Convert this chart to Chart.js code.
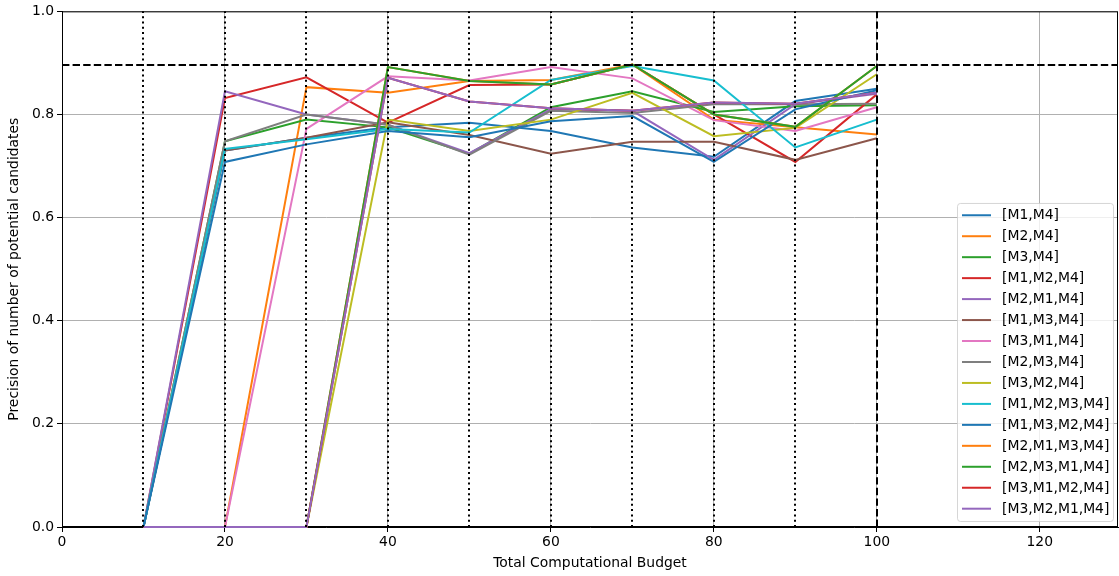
<!DOCTYPE html>
<html>
<head>
<meta charset="utf-8">
<script src="https://cdn.jsdelivr.net/npm/chart.js@4.4.1/dist/chart.umd.min.js"></script>
<style>
  html, body { margin: 0; padding: 0; background: #fff; }
  #wrap { width: 1119px; height: 576px; }
</style>
</head>
<body>
<div id="wrap"><canvas id="chart"></canvas></div>
<script>
const budgets = [10, 20, 30, 40, 50, 60, 70, 80, 90, 100];

const seriesLabels = ['[M1,M4]', '[M2,M4]', '[M3,M4]', '[M1,M2,M4]', '[M2,M1,M4]', '[M1,M3,M4]', '[M3,M1,M4]', '[M2,M3,M4]',
  '[M3,M2,M4]', '[M1,M2,M3,M4]', '[M1,M3,M2,M4]', '[M2,M1,M3,M4]', '[M2,M3,M1,M4]', '[M3,M1,M2,M4]', '[M3,M2,M1,M4]'];

const m1m4 = [0, 0.730, 0.755, 0.775, 0.784, 0.768, 0.736, 0.718, 0.826, 0.850];
const m2m4 = [0, 0, 0.853, 0.842, 0.865, 0.867, 0.897, 0.790, 0.775, 0.761];
const m3m4 = [0, 0.748, 0.790, 0.775, 0.724, 0.814, 0.845, 0.805, 0.816, 0.818];
const m1m2m4 = [0, 0.832, 0.872, 0.784, 0.857, 0.858, 0.897, 0.800, 0.708, 0.839];
const m2m1m4 = [0, 0.845, 0.800, 0.780, 0.725, 0.810, 0.807, 0.712, 0.820, 0.840];
const m1m3m4 = [0, 0.730, 0.755, 0.785, 0.760, 0.724, 0.747, 0.747, 0.712, 0.754];
const m3m1m4 = [0, 0, 0.772, 0.874, 0.866, 0.892, 0.870, 0.789, 0.768, 0.814];
const m2m3m4 = [0, 0.748, 0.800, 0.780, 0.722, 0.807, 0.803, 0.820, 0.820, 0.821];
const m3m2m4 = [0, 0, 0, 0.790, 0.768, 0.790, 0.842, 0.758, 0.774, 0.878];
const m1m2m3m4 = [0, 0.733, 0.752, 0.772, 0.765, 0.867, 0.894, 0.866, 0.736, 0.790];
const m1m3m2m4 = [0, 0.708, 0.742, 0.768, 0.756, 0.787, 0.797, 0.708, 0.810, 0.847];
const m2m1m3m4 = [0, 0, 0, 0.892, 0.865, 0.858, 0.897, 0.800, 0.776, 0.894];
const m2m3m1m4 = [0, 0, 0, 0.892, 0.865, 0.858, 0.897, 0.800, 0.776, 0.894];
const m3m1m2m4 = [0, 0, 0, 0.871, 0.825, 0.812, 0.807, 0.823, 0.821, 0.842];
const m3m2m1m4 = [0, 0, 0, 0.871, 0.825, 0.812, 0.807, 0.823, 0.821, 0.842];

const allSeries = [m1m4, m2m4, m3m4, m1m2m4, m2m1m4, m1m3m4, m3m1m4, m2m3m4, m3m2m4, m1m2m3m4, m1m3m2m4, m2m1m3m4, m2m3m1m4, m3m1m2m4, m3m2m1m4];

const dottedBudgets = [10, 20, 30, 40, 50, 60, 70, 80, 90];
const dashedBudgets = [100];
const targetPrecision = [0.895];

const colors = ['#1f77b4', '#ff7f0e', '#2ca02c', '#d62728', '#9467bd', '#8c564b', '#e377c2', '#7f7f7f', '#bcbd22', '#17becf'];
const FONT = '"DejaVu Sans", sans-serif';
const FS = 13.9;

const datasets = allSeries.map((vals, i) => ({
  label: seriesLabels[i],
  data: vals.map((v, j) => ({ x: budgets[j], y: v })),
  borderColor: colors[i % colors.length],
  backgroundColor: colors[i % colors.length],
  borderWidth: 2,
  pointRadius: 0,
  tension: 0,
  clip: 2,
  order: allSeries.length - i
}));

// reference lines, frame and the in-axes legend
const overlay = {
  id: 'overlay',
  beforeDatasetsDraw(chart) {
    const { ctx, chartArea: a } = chart;
    ctx.save();
    ctx.strokeStyle = '#000';
    ctx.lineWidth = 1;
    ctx.strokeRect(a.left + 0.5, a.top + 0.5, a.right - a.left - 1, a.bottom - a.top - 1);
    ctx.restore();
  },
  afterDatasetsDraw(chart) {
    const { ctx, chartArea: a, scales: { x, y } } = chart;
    ctx.save();
    ctx.strokeStyle = '#000';
    ctx.lineWidth = 2;

    ctx.setLineDash([2, 3.3]);
    dottedBudgets.forEach((b) => {
      const px = Math.round(x.getPixelForValue(b));
      ctx.beginPath(); ctx.moveTo(px, a.bottom); ctx.lineTo(px, a.top); ctx.stroke();
    });

    ctx.setLineDash([7.4, 3.2]);
    dashedBudgets.forEach((b) => {
      const px = Math.round(x.getPixelForValue(b));
      ctx.beginPath(); ctx.moveTo(px, a.bottom); ctx.lineTo(px, a.top); ctx.stroke();
    });
    targetPrecision.forEach((p) => {
      const py = Math.round(y.getPixelForValue(p));
      ctx.beginPath(); ctx.moveTo(a.left, py); ctx.lineTo(a.right, py); ctx.stroke();
    });
    ctx.setLineDash([]);

    // legend
    const rowH = 20.96;
    const pad = 12.3;
    const boxW = 156;
    const boxH = (seriesLabels.length - 1) * rowH + pad * 2;
    const bx = a.right - 5 - boxW;
    const by = a.bottom - 6 - boxH;
    ctx.fillStyle = 'rgba(255,255,255,0.8)';
    ctx.strokeStyle = 'rgba(204,204,204,0.8)';
    ctx.lineWidth = 1;
    ctx.beginPath();
    ctx.roundRect(bx + 0.5, by + 0.5, boxW, boxH, 3);
    ctx.fill();
    ctx.stroke();

    ctx.font = FS + 'px ' + FONT;
    ctx.textBaseline = 'middle';
    ctx.textAlign = 'left';
    seriesLabels.forEach((lab, i) => {
      const cy = by + pad + i * rowH;
      ctx.strokeStyle = colors[i % colors.length];
      ctx.lineWidth = 2;
      ctx.beginPath(); ctx.moveTo(bx + 5, cy); ctx.lineTo(bx + 34, cy); ctx.stroke();
      ctx.fillStyle = '#000';
      ctx.fillText(lab, bx + 45, cy + 0.5);
    });
    ctx.restore();
  }
};

new Chart(document.getElementById('chart'), {
  type: 'line',
  data: { datasets },
  options: {
    responsive: true,
    maintainAspectRatio: false,
    animation: false,
    layout: { padding: { top: 10, right: 1, left: 0, bottom: 0 } },
    plugins: { legend: { display: false }, tooltip: { enabled: false } },
    scales: {
      x: {
        type: 'linear',
        min: 0,
        max: 129.6,
        border: { color: '#000', width: 1 },
        grid: { color: '#b0b0b0', lineWidth: 1, tickColor: '#000', tickLength: 5 },
        ticks: { stepSize: 20, includeBounds: false, color: '#000', font: { family: FONT, size: FS }, padding: 2, maxRotation: 0 },
        title: { display: true, text: 'Total Computational Budget', color: '#000', font: { family: FONT, size: FS }, padding: { top: 2, bottom: 4 } },
        afterFit: (s) => { s.height = 49; }
      },
      y: {
        min: 0,
        max: 1,
        border: { color: '#000', width: 1 },
        grid: { color: '#b0b0b0', lineWidth: 1, tickColor: '#000', tickLength: 5 },
        ticks: { stepSize: 0.2, color: '#000', font: { family: FONT, size: FS }, padding: 3, callback: (v) => v.toFixed(1) },
        title: { display: true, text: 'Precision of number of potential candidates', color: '#000', font: { family: FONT, size: FS }, padding: { top: 6, bottom: 4 } },
        afterFit: (s) => { s.width = 62; }
      }
    }
  },
  plugins: [overlay]
});
</script>
</body>
</html>
